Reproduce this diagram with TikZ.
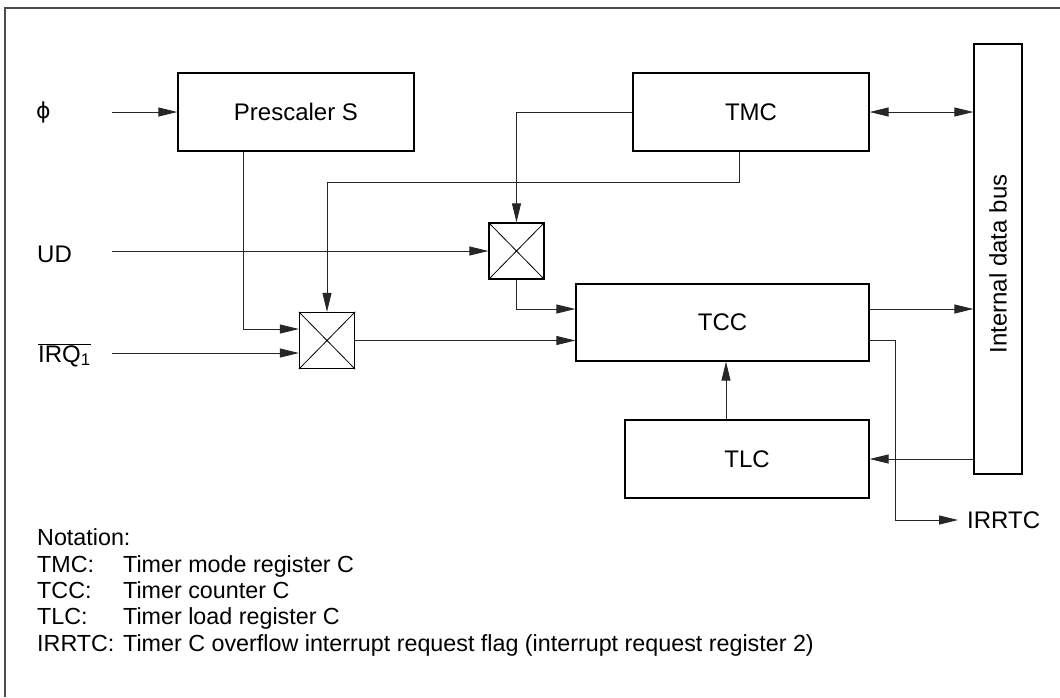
\documentclass[tikz,border=0pt]{standalone}
\usepackage{fontspec}
\setmainfont{Liberation Sans}
\newfontfamily\dejavufont{DejaVu Sans}
\usetikzlibrary{arrows.meta,calc}
\begin{document}
\begin{tikzpicture}[x=1pt,y=-1pt,
  box/.style={draw, line width=1.3pt, inner sep=0pt, font=\fontsize{24}{28}\selectfont},
  mux/.style={draw, line width=1.3pt, inner sep=0pt, minimum width=55pt, minimum height=56pt},
  wire/.style={line width=0.9pt, draw=black!85},
  arr/.style={wire, -{Triangle[length=19pt,width=9pt]}},
  arrb/.style={wire, {Triangle[length=19pt,width=9pt]}-{Triangle[length=19pt,width=9pt]}},
  lbl/.style={inner sep=0pt, font=\fontsize{24}{28}\selectfont},
  note/.style={inner sep=0pt, anchor=base west, font=\fontsize{23.3}{27}\selectfont}]
\useasboundingbox (0,0) rectangle (1060,697);
\fill[white] (0,0) rectangle (1060,697);
\draw[line width=2pt, black!70] (5,697) -- (5,8) -- (1060,8);

% blocks
\node[box, minimum width=236pt, minimum height=78pt] (pre) at (296,112) {Prescaler S};
\node[box, minimum width=236pt, minimum height=78pt] (tmc) at (751,112) {TMC};
\node[box, minimum width=293pt, minimum height=77pt] (tcc) at (722.5,322.5) {TCC};
\node[box, minimum width=244pt, minimum height=78pt] (tlc) at (747,459) {TLC};
\node[box, minimum width=48pt, minimum height=430pt] (bus) at (998,259) {};
\node[lbl, rotate=90] (buslbl) at (998,264) {Internal data bus};

% multiplexers
\node[mux] (m1) at (516.5,251) {};
\draw[line width=0.8pt] (m1.north west) -- (m1.south east) (m1.north east) -- (m1.south west);
\node[mux] (m2) at (327,340.5) {};
\draw[line width=0.8pt] (m2.north west) -- (m2.south east) (m2.north east) -- (m2.south west);

% inputs
\node[lbl, anchor=west, font=\dejavufont\fontsize{22}{26}\selectfont] (phi) at (36,112) {ϕ};
\node[lbl, anchor=base west] (ud) at (37,262) {UD};
\node[lbl, anchor=base west] (irq) at (38,362) {$\overline{\mbox{IRQ\textsubscript{1}}}$};
\coordinate (phiin) at (112,112);
\coordinate (udin) at (112,251);
\coordinate (irqin) at (112,353);

\draw[arr] (phiin) -- (pre.west);
\draw[arr] (udin) -- (m1.west);
\draw[arr] (irqin) -- ([yshift=-12.5pt]m2.west);
\draw[arr] ([xshift=-53pt]pre.south) |- ([yshift=11.5pt]m2.west);
\draw[arr] (tmc.west) -| (m1.north);
\draw[arr] ([xshift=-12pt]tmc.south) -- ++(0,31) -| (m2.north);
\draw[arr] (m1.south) |- ([yshift=13.5pt]tcc.west);
\draw[arr] (m2.east) -- (tcc.west |- m2.east);
\draw[arr] ([yshift=13.5pt]tcc.east) -- ([yshift=13.5pt]tcc.east -| bus.west);
\draw[arrb] (tmc.east) -- (tmc.east -| bus.west);
\draw[arr] ([xshift=3.5pt]tcc.south |- tlc.north) -- ([xshift=3.5pt]tcc.south);
\draw[arr] (bus.west |- tlc.east) -- (tlc.east);

\node[lbl, anchor=west] (irrtc) at (967,520) {IRRTC};
\draw[arr] ([yshift=-17.5pt]tcc.east) -- ++(26,0) |- ([xshift=-9pt]irrtc.west);

% notation
\node[note] (n0) at (37,545) {Notation:};
\node[note] (n1a) at (37,572) {TMC:};
\node[note] (n1b) at (123,572) {Timer mode register C};
\node[note] (n2a) at (37,598) {TCC:};
\node[note] (n2b) at (123,598) {Timer counter C};
\node[note] (n3a) at (37,624) {TLC:};
\node[note] (n3b) at (123,624) {Timer load register C};
\node[note] (n4a) at (37,651) {IRRTC:};
\node[note] (n4b) at (123,651) {Timer C overflow interrupt request flag (interrupt request register 2)};
\end{tikzpicture}
\end{document}
